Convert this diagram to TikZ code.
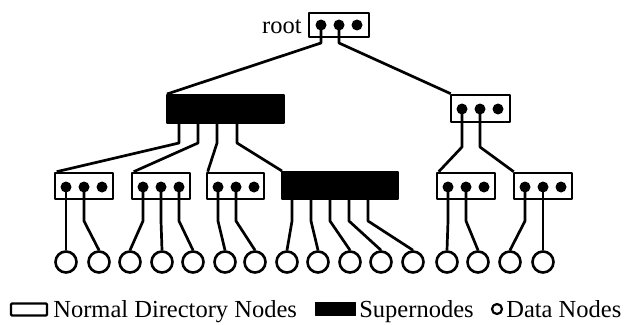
\documentclass[tikz,border=0pt]{standalone}
\usepackage{fontspec}
\setmainfont{Liberation Serif}
\begin{document}
\begin{tikzpicture}[x=1pt,y=-1pt,
  line width=2.7pt,line join=round,
  dirbox/.style={draw,line width=2.6pt,inner sep=0pt,minimum width=58pt,minimum height=26pt},
  superbox/.style={draw,fill=black,line width=2pt,inner sep=0pt,minimum height=27pt},
  dot/.style={circle,fill=black,inner sep=0pt,minimum size=11pt},
  leaf/.style={circle,draw,line width=2.6pt,inner sep=0pt,minimum size=21pt},
  lbl/.style={font=\fontsize{24.5}{25}\selectfont,inner sep=0pt}]
\useasboundingbox (0,0) rectangle (628,324);
% bend levels
\coordinate (b0) at (0,43);
\coordinate (b1) at (0,143);
\coordinate (b1r) at (0,147);
\coordinate (b2) at (0,221);
% root
\node[lbl,anchor=base east] (rootlbl) at (303,33) {root};
\node[dirbox,minimum width=60pt,minimum height=24pt] (R) at (339,25) {};
\node[dot] (R1) at (321,25) {};
\node[dot] (R2) at (339,25) {};
\node[dot] (R3) at (357,25) {};
% level 1
\node[superbox,minimum width=117pt,minimum height=28pt] (S1) at (225.5,109) {};
\node[dirbox,minimum width=59pt,minimum height=27pt] (Q) at (480.5,108.5) {};
\node[dot] (Q1) at (462,109) {};
\node[dot] (Q2) at (480,109) {};
\node[dot] (Q3) at (498,109) {};
% level 2
\node[dirbox] (A) at (84,186) {};
\node[dot] (A1) at (66,187) {};
\node[dot] (A2) at (84,187) {};
\node[dot] (A3) at (102,187) {};
\node[dirbox] (B) at (161,186) {};
\node[dot] (B1) at (143,187) {};
\node[dot] (B2) at (161,187) {};
\node[dot] (B3) at (179,187) {};
\node[dirbox,minimum width=57pt] (C) at (235.5,186) {};
\node[dot] (C1) at (218,187) {};
\node[dot] (C2) at (236,187) {};
\node[dot] (C3) at (254,187) {};
\node[superbox,minimum width=116pt] (S2) at (340,185.5) {};
\node[dirbox] (D) at (466,186) {};
\node[dot] (D1) at (448,187) {};
\node[dot] (D2) at (466,187) {};
\node[dot] (D3) at (484,187) {};
\node[dirbox] (E) at (543,186) {};
\node[dot] (E1) at (525,187) {};
\node[dot] (E2) at (543,187) {};
\node[dot] (E3) at (561,187) {};
% leaves
\foreach \i/\x in {1/66,2/99,3/130,4/162,5/193,6/225,7/255,8/287,9/318,10/350,11/381,12/413,13/447,14/478,15/510,16/543}
  \node[leaf] (c\i) at (\x,262) {};
% supernode outlets
\coordinate (s1a) at ([xshift=13pt]S1.south west);
\coordinate (s1b) at ([xshift=32pt]S1.south west);
\coordinate (s1c) at ([xshift=51pt]S1.south west);
\coordinate (s1d) at ([xshift=71pt]S1.south west);
\coordinate (s2a) at ([xshift=11pt]S2.south west);
\coordinate (s2b) at ([xshift=30pt]S2.south west);
\coordinate (s2c) at ([xshift=49pt]S2.south west);
\coordinate (s2d) at ([xshift=68pt]S2.south west);
\coordinate (s2e) at ([xshift=87pt]S2.south west);
% root connectors
\draw (R1.center) -- (R1 |- b0) -- ([xshift=1pt]S1.north west);
\draw (R2.center) -- (R2 |- b0) -- ([xshift=1pt]Q.north west);
% level 1 connectors
\draw (s1a) -- (s1a |- b1) -- ([xshift=3pt]A.north west);
\draw (s1b) -- (s1b |- b1) -- ([xshift=3pt]B.north west);
\draw (s1c) -- (s1c |- b1) -- ([xshift=2pt]C.north west);
\draw (s1d) -- (s1d |- b1) -- ([xshift=1pt]S2.north west);
\draw (Q1.center) -- (Q1 |- b1r) -- ([xshift=3pt]D.north west);
\draw (Q2.center) -- (Q2 |- b1r) -- ([xshift=1pt]E.north west);
% level 2 connectors
\draw (A1.center) -- (A1 |- b2) -- (c1.north);
\draw (A2.center) -- (A2 |- b2) -- (c2.north);
\draw (B1.center) -- (B1 |- b2) -- (c3.north);
\draw (B2.center) -- (B2 |- b2) -- (c4.north);
\draw (B3.center) -- (B3 |- b2) -- (c5.north);
\draw (C1.center) -- (C1 |- b2) -- (c6.north);
\draw (C2.center) -- (C2 |- b2) -- (c7.north);
\draw (s2a) -- (s2a |- b2) -- (c8.north);
\draw (s2b) -- (s2b |- b2) -- (c9.north);
\draw (s2c) -- (s2c |- b2) -- (c10.north);
\draw (s2d) -- (s2d |- b2) -- (c11.north);
\draw (s2e) -- (s2e |- b2) -- (c12.north);
\draw (D1.center) -- (D1 |- b2) -- (c13.north);
\draw (D2.center) -- (D2 |- b2) -- (c14.north);
\draw (E1.center) -- (E1 |- b2) -- (c15.north);
\draw (E2.center) -- (E2 |- b2) -- (c16.north);
% legend
\node[draw,line width=2.4pt,rounded corners=1pt,inner sep=0pt,minimum width=36pt,minimum height=12pt] (lg1) at (29,309.5) {};
\node[lbl,anchor=base west] (lt1) at (52,317) {Normal Directory Nodes};
\node[draw,fill=black,line width=1pt,inner sep=0pt,minimum width=40pt,minimum height=13pt] (lg2) at (335,308.5) {};
\node[lbl,anchor=base west] (lt2) at (358,317) {Supernodes};
\node[circle,draw,line width=2.2pt,inner sep=0pt,minimum size=10pt] (lg3) at (497,309) {};
\node[lbl,anchor=base west] (lt3) at (505,317) {Data Nodes};
\end{tikzpicture}
\end{document}
